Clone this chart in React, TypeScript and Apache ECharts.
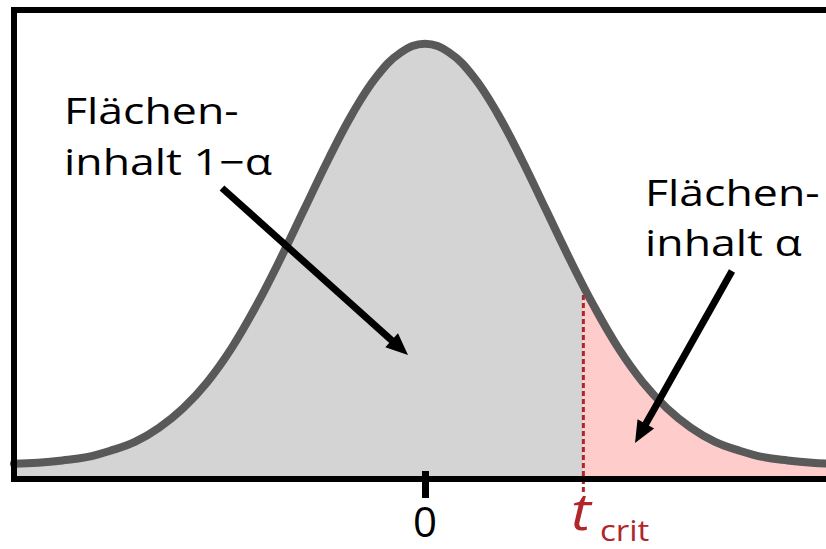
import React, { useEffect, useRef } from 'react';
import * as echarts from 'echarts';

// t values (x axis, in standard units)
const X_VALUES = [
  -3.4, -3.2, -3.0, -2.8, -2.6, -2.4, -2.2, -2.0, -1.8, -1.6, -1.4, -1.2, -1.0, -0.8, -0.6, -0.4, -0.2,
  0,
  0.2, 0.4, 0.6, 0.8, 1.0, 1.2, 1.4, 1.6, 1.8, 2.0, 2.2, 2.4, 2.6, 2.8, 3.0, 3.2, 3.4,
];
// density
const DENSITY = [
  0.014, 0.015, 0.017, 0.020, 0.026, 0.034, 0.047, 0.065, 0.089, 0.120, 0.158, 0.201, 0.247, 0.293, 0.335, 0.369, 0.391,
  0.399,
  0.391, 0.369, 0.335, 0.293, 0.247, 0.201, 0.158, 0.120, 0.089, 0.065, 0.047, 0.034, 0.026, 0.020, 0.017, 0.015, 0.014,
];
const T_CRIT = 1.31;
const T_CRIT_DENSITY = 0.174;
const DASH_BOTTOM = -0.012;
const TICK_VALUES = [0];
const TICK_LABELS = ['0'];
const LEFT_LABEL = ['Flächen-', 'inhalt 1−α'];
const RIGHT_LABEL = ['Flächen-', 'inhalt α'];
const CRIT_MAIN = 't';
const CRIT_SUB = 'crit';

const FONT = "'Open Sans', 'Noto Sans', sans-serif";
const RED = '#b0262a';

function arrow(x1: number, y1: number, x2: number, y2: number) {
  const dx = x2 - x1;
  const dy = y2 - y1;
  const len = Math.hypot(dx, dy);
  const ux = dx / len;
  const uy = dy / len;
  const nx = -uy;
  const ny = ux;
  const L = 22;
  const W = 9.5;
  const bx = x2 - L * ux;
  const by = y2 - L * uy;
  return {
    type: 'group',
    z: 100,
    children: [
      {
        type: 'line',
        z: 100,
        shape: { x1, y1, x2: x2 - (L - 3) * ux, y2: y2 - (L - 3) * uy },
        style: { stroke: '#000', lineWidth: 7 },
      },
      {
        type: 'polygon',
        z: 100,
        shape: {
          points: [
            [x2, y2],
            [bx + W * nx, by + W * ny],
            [bx - W * nx, by - W * ny],
          ],
        },
        style: { fill: '#000' },
      },
    ],
  };
}

function textLine(text: string, x: number, baseline: number, size: number, opts: any = {}) {
  return {
    type: 'text',
    z: 100,
    x,
    y: baseline - 0.388 * size,
    scaleX: opts.scaleX ?? 1,
    style: {
      text,
      fill: opts.color ?? '#000',
      font: `${opts.italic ? 'italic ' : ''}${opts.weight ?? 'normal'} ${size}px ${FONT}`,
      lineHeight: opts.lineHeight ?? size,
      align: 'left',
      verticalAlign: 'middle',
    },
  };
}

export default function App() {
  const ref = useRef<HTMLDivElement>(null);

  useEffect(() => {
    document.body.style.margin = '0';
    const chart = echarts.init(ref.current!, null, { renderer: 'svg' });

    const curve = X_VALUES.map((x, i) => [x, DENSITY[i]]);
    const grayArea = [...curve.filter((p) => p[0] <= T_CRIT), [T_CRIT, T_CRIT_DENSITY]];
    const pinkArea = [[T_CRIT, T_CRIT_DENSITY], ...curve.filter((p) => p[0] > T_CRIT)];
    const dashed = [
      [T_CRIT, DASH_BOTTOM],
      [T_CRIT, T_CRIT_DENSITY],
    ];

    const SX = 1.24;
    const option: any = {
      animation: false,
      backgroundColor: '#ffffff',
      grid: {
        left: 14,
        top: 10,
        width: 822,
        height: 469,
        show: false,
        containLabel: false,
        outerBoundsMode: 'none',
      },
      xAxis: {
        type: 'value',
        min: -3.4,
        max: 3.4,
        offset: -8,
        z: 10,
        axisLine: { show: false },
        splitLine: { show: false },
        axisTick: {
          show: true,
          customValues: TICK_VALUES,
          length: 27,
          lineStyle: { color: '#000', width: 7 },
        },
        axisLabel: {
          show: true,
          customValues: TICK_VALUES,
          formatter: (v: number) => TICK_LABELS[TICK_VALUES.indexOf(v)] ?? '',
          margin: 28,
          fontSize: 42,
          color: '#000',
          fontFamily: FONT,
        },
      },
      yAxis: { type: 'value', min: 0, max: 0.43, show: false },
      series: [
        {
          type: 'line',
          data: grayArea,
          smooth: 0.4,
          symbol: 'none',
          lineStyle: { width: 0 },
          areaStyle: { color: '#d4d4d4', opacity: 1 },
          silent: true,
        },
        {
          type: 'line',
          data: pinkArea,
          smooth: 0.4,
          symbol: 'none',
          lineStyle: { width: 0 },
          areaStyle: { color: '#ffcccc', opacity: 1 },
          silent: true,
        },
        {
          type: 'line',
          data: dashed,
          symbol: 'none',
          clip: false,
          lineStyle: { color: RED, width: 3, type: [5, 3] },
          silent: true,
        },
        {
          type: 'line',
          data: curve,
          smooth: 0.4,
          symbol: 'none',
          lineStyle: { color: '#595959', width: 8, cap: 'round' },
          silent: true,
        },
      ],
      graphic: [
        {
          type: 'rect',
          z: 90,
          shape: { x: 14, y: 10, width: 830, height: 469 },
          style: { fill: 'none', stroke: '#000', lineWidth: 6 },
        },
        textLine(LEFT_LABEL[0], 64, 124, 36, { scaleX: SX }),
        textLine(LEFT_LABEL[1], 64, 175, 36, { scaleX: SX }),
        textLine(RIGHT_LABEL[0], 645, 206, 36, { scaleX: SX }),
        textLine(RIGHT_LABEL[1], 645, 256, 36, { scaleX: SX }),
        arrow(222, 188, 408, 355),
        arrow(732, 271, 635, 443),
        textLine(CRIT_MAIN, 571, 530, 52, { italic: true, color: RED, scaleX: 1.15, weight: 500, lineHeight: 44 }),
        textLine(CRIT_SUB, 600, 541, 30, { color: RED, scaleX: 1.1, lineHeight: 24 }),
      ],
    };
    chart.setOption(option);
    return () => chart.dispose();
  }, []);

  return (
    <div
      ref={ref}
      style={{ width: 826, height: 549, position: 'absolute', left: 0, top: 0, background: '#fff' }}
    />
  );
}
